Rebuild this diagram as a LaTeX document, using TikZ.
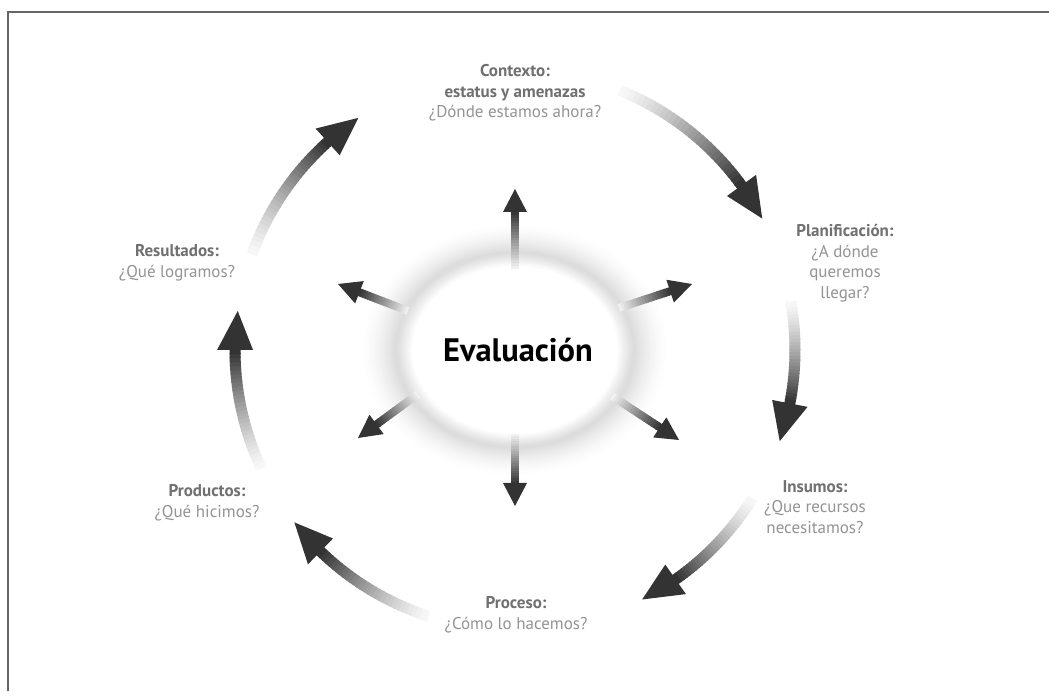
\documentclass[tikz,border=0pt]{standalone}
\usepackage{fontspec}
\setmainfont{PT Sans}
\usetikzlibrary{calc}
\tikzset{
  lbl/.style={align=center, font=\fontsize{17}{20.5}\selectfont, text=black!42},
  evtext/.style={font=\fontsize{32.5}{36}\selectfont\bfseries, text=black},
  framestyle/.style={draw=black!60, line width=2pt},
  headfill/.style={fill=black!80},
}
\newcommand{\hdr}[1]{{\bfseries\color{black!56}#1}}
\newcommand{\spoke}[2]{%
  \coordinate (hb) at ($(#2)!23pt!(#1)$);
  \foreach \i in {0,...,19}{
    \pgfmathsetmacro{\mypc}{6+72*\i/19}
    \draw[line width=8pt, color=black!\mypc] ($(#1)!\i/20!(hb)$) -- ($(#1)!\i/20+0.065!(hb)$);
  }
  \fill[headfill] (#2) -- ($(hb)!12pt!90:(#2)$) -- ($(hb)!12pt!-90:(#2)$) -- cycle;
}
\newcommand{\carrow}[3]{%
  \pgfmathsetmacro{\mysg}{#2>#1 ? 1 : -1}
  \pgfmathsetmacro{\myhb}{#2 - \mysg*8}
  \foreach \i in {0,...,29}{
    \pgfmathsetmacro{\myaA}{#1+(\myhb-(#1))*\i/30}
    \pgfmathsetmacro{\myaB}{#1+(\myhb-(#1))*(\i+1.3)/30}
    \pgfmathsetmacro{\mypc}{3+77*(\i/29)^1.3}
    \draw[line width=11pt, color=black!\mypc] ($(C)+(\myaA:280)$) -- ($(C)+(\myaB:280)$);
  }
  \coordinate (#3) at ($(C)+(#2:280)$);
  \fill[headfill] (#3) -- ($(C)+(\myhb:298)$) -- ($(C)+(\myhb:262)$) -- cycle;
}
\begin{document}
\begin{tikzpicture}[x=1pt,y=1pt]
\useasboundingbox (0,0) rectangle (1049,691);
\fill[white] (0,0) rectangle (1049,691);
\coordinate (fA) at (8,0);
\coordinate (fB) at (8,679);
\coordinate (fC) at (1049,679);
\draw[framestyle] (fA) -- (fB) -- (fC);

% glow behind the centre
\coordinate (C) at (515,341);
\foreach \i in {0,...,49}{
  \pgfmathsetmacro{\mys}{1-\i*0.0066}
  \pgfmathsetmacro{\mygc}{\mys>0.77 ? 14*((1-\mys)/0.23)^1.6 : 14*((\mys-0.67)/0.10)^0.8}
  \fill[color=black!\mygc] (C) ellipse [x radius=155*\mys, y radius=127*\mys];
}
\fill[white] (C) ellipse [x radius=103, y radius=84];

% spokes
\coordinate (s1a) at (515,422); \coordinate (s1b) at (515,502);
\coordinate (s2a) at (408,380); \coordinate (s2b) at (338,407);
\coordinate (s3a) at (619,383); \coordinate (s3b) at (692,407);
\coordinate (s4a) at (418,297); \coordinate (s4b) at (358,253);
\coordinate (s5a) at (612,295); \coordinate (s5b) at (679,251);
\coordinate (s6a) at (515,257); \coordinate (s6b) at (515,185);
\spoke{s1a}{s1b}
\spoke{s2a}{s2b}
\spoke{s3a}{s3b}
\spoke{s4a}{s4b}
\spoke{s5a}{s5b}
\spoke{s6a}{s6b}

\node[evtext] (ev) at (518,341) {Evaluación};

% cycle arrows
\carrow{160}{124}{c1}
\carrow{68}{28}{c2}
\carrow{10}{-19}{c3}
\carrow{-32}{-63}{c4}
\carrow{-108}{-142}{c5}
\carrow{205}{172}{c6}

% labels
\node[lbl] (ctx) at (515,598) {\hdr{Contexto:}\\ \hdr{estatus y amenazas}\\ ¿Dónde estamos ahora?};
\node[lbl] (pla) at (845,428) {\hdr{Planificación:}\\ ¿A dónde\\ queremos\\ llegar?};
\node[lbl] (ins) at (815,184) {\hdr{Insumos:}\\ ¿Que recursos\\ necesitamos?};
\node[lbl] (pro) at (516,76) {\hdr{Proceso:}\\ ¿Cómo lo hacemos?};
\node[lbl] (prd) at (207,188) {\hdr{Productos:}\\ ¿Qué hicimos?};
\node[lbl] (res) at (177,428) {\hdr{Resultados:}\\ ¿Qué logramos?};
\end{tikzpicture}
\end{document}
